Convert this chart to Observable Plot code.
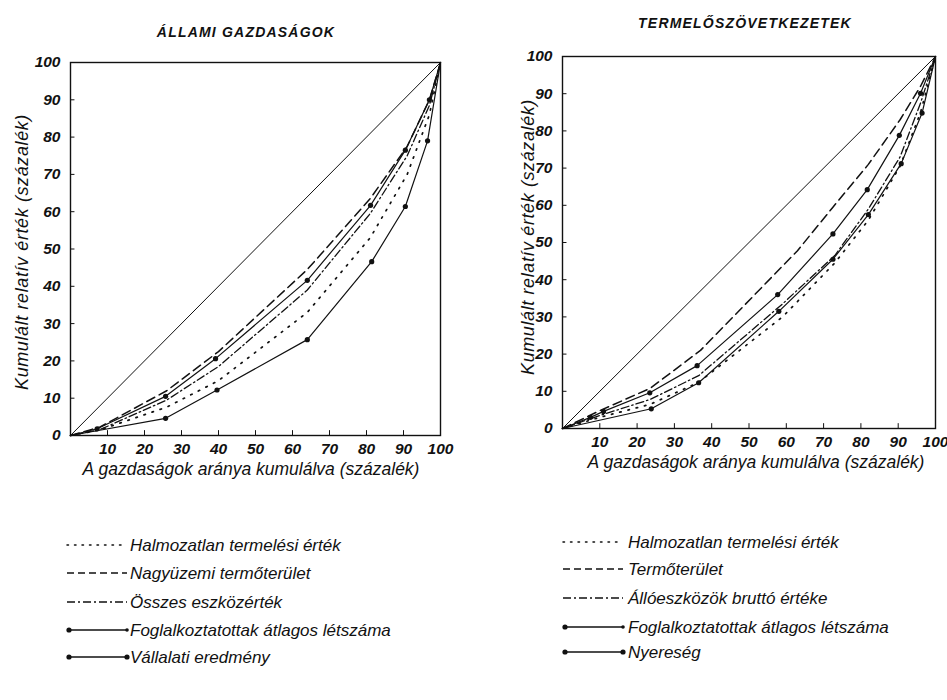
<!DOCTYPE html>
<html><head><meta charset="utf-8">
<script src="https://cdn.jsdelivr.net/npm/d3@7"></script>
<script src="https://cdn.jsdelivr.net/npm/@observablehq/plot@0.6"></script>
<style>
body{margin:0;background:#fff;}
#root{position:relative;width:947px;height:700px;overflow:hidden;font-family:"Liberation Sans",Arial,sans-serif;color:#111;}
.abs{position:absolute;white-space:nowrap;}
.title{font-weight:bold;font-style:italic;font-size:14px;letter-spacing:1.2px;transform:translate(-50%,-50%);}
.xlab{font-style:italic;font-size:17.5px;transform:translate(-50%,-50%);}
.ylab{font-style:italic;font-size:18px;letter-spacing:0.6px;transform:translate(-50%,-50%) rotate(-90deg);}
svg{overflow:visible;}
</style></head><body><div id="root"></div>
<script>
// ---- texts ----
const titleAG = "ÁLLAMI GAZDASÁGOK";
const titleTSZ = "TERMELŐSZÖVETKEZETEK";
const yLabel = "Kumulált relatív érték (százalék)";
const xLabel = "A gazdaságok aránya kumulálva (százalék)";
const xTicks = [10, 20, 30, 40, 50, 60, 70, 80, 90, 100];
const yTicks = [0, 10, 20, 30, 40, 50, 60, 70, 80, 90, 100];
const diagX = [0, 100];
const diagY = [0, 100];

// ---- Állami gazdaságok ----
const namesAG = ["Halmozatlan termelési érték", "Nagyüzemi termőterület", "Összes eszközérték", "Foglalkoztatottak átlagos létszáma", "Vállalati eredmény"];
const agHalmX = [0, 8, 26, 40, 64, 81, 91, 97, 100];
const agHalmY = [0, 1.5, 7.6, 14.7, 33, 53, 70, 86, 100];
const agTermX = [0, 8, 26, 40, 64, 81, 91, 97, 100];
const agTermY = [0, 2.3, 12, 22.5, 44.5, 63.5, 77.5, 90, 100];
const agEszkX = [0, 8, 26, 40, 64, 81, 91, 97, 100];
const agEszkY = [0, 1.6, 9.5, 18.5, 39, 59.5, 75, 88.5, 100];
const agFoglX = [0, 7.2, 25.7, 39.2, 64, 81.1, 90.5, 97, 100];
const agFoglY = [0, 1.8, 10.5, 20.6, 41.6, 61.7, 76.5, 90, 100];
const agEredX = [0, 25.7, 39.6, 64, 81.4, 90.5, 96.5, 100];
const agEredY = [0, 4.6, 12.2, 25.7, 46.6, 61.4, 79, 100];

// ---- Termelőszövetkezetek ----
const namesTSZ = ["Halmozatlan termelési érték", "Termőterület", "Állóeszközök bruttó értéke", "Foglalkoztatottak átlagos létszáma", "Nyereség"];
const tszHalmX = [0, 10, 23.5, 36.5, 59, 73, 82, 90.5, 96, 100];
const tszHalmY = [0, 3, 6.5, 12.4, 30, 44.5, 56, 70.5, 85, 100];
const tszTermX = [0, 10, 23.5, 37, 63, 72.5, 82, 90.5, 96, 100];
const tszTermY = [0, 4.8, 10.8, 21, 47.8, 59.5, 71, 83, 92, 100];
const tszAlloX = [0, 10, 23.5, 36.5, 59, 73, 82, 90.5, 96, 100];
const tszAlloY = [0, 3.5, 7.8, 14.2, 33.5, 46.5, 59, 73, 87.5, 100];
const tszFoglX = [0, 7.5, 11, 23.4, 36.1, 57.7, 72.5, 81.7, 90.3, 96, 100];
const tszFoglY = [0, 3, 4.6, 9.6, 16.9, 36, 52.3, 64.2, 78.8, 90.1, 100];
const tszNyerX = [0, 23.8, 36.5, 58, 72.5, 82, 90.8, 96.4, 100];
const tszNyerY = [0, 5.3, 12.3, 31.5, 45.5, 57.5, 71.2, 84.8, 100];

const INK = "#111";
const styles = {
  dotted: {strokeDasharray: "1.5,7", strokeWidth: 1.7, strokeLinecap: "round"},
  dashed: {strokeDasharray: "9,5", strokeWidth: 1.5},
  dashdot: {strokeDasharray: "8,3,1.5,3", strokeWidth: 1.3},
  solid: {strokeWidth: 1.2}
};

function seriesMarks(xs, ys, st, dots) {
  const idx = xs.map((_, i) => i);
  const m = [Plot.line(idx, {x: i => xs[i], y: i => ys[i], stroke: INK, ...styles[st]})];
  if (dots) {
    const di = idx.filter(i => xs[i] > 0 && xs[i] < 100);
    m.push(Plot.dot(di, {x: i => xs[i], y: i => ys[i], r: 2.6, fill: INK}));
  }
  return m;
}

function panel(list, o) {
  const marks = [
    Plot.frame({stroke: INK, strokeWidth: 1.4}),
    Plot.line(diagX.map((_, i) => i), {x: i => diagX[i], y: i => diagY[i], stroke: INK, strokeWidth: 1}),
    Plot.ruleX(xTicks, {y1: 0, y2: 1.3, stroke: INK}),
    Plot.ruleY(yTicks, {x1: 0, x2: 1.2, stroke: INK}),
    Plot.axisX(xTicks, {tickSize: 0, tickPadding: 7, label: null}),
    Plot.axisY(yTicks, {tickSize: 0, tickPadding: 10, label: null}),
  ];
  for (const s of list) marks.push(...seriesMarks(s[0], s[1], s[2], s[3]));
  return Plot.plot({
    width: o.width, height: o.height,
    marginLeft: o.ml, marginRight: o.mr, marginTop: o.mt, marginBottom: o.mb,
    x: {domain: [0, 100]}, y: {domain: [0, 100]},
    style: {fontFamily: "'Liberation Sans', Arial, sans-serif", fontStyle: "italic", fontWeight: "bold", fontSize: "15.5px", color: INK, background: "transparent"},
    marks
  });
}

const root = document.getElementById("root");
function place(el, left, top) { el.style.position = "absolute"; el.style.left = left + "px"; el.style.top = top + "px"; root.appendChild(el); }
function text(cls, str, x, y) { const d = document.createElement("div"); d.className = "abs " + cls; d.textContent = str; d.style.left = x + "px"; d.style.top = y + "px"; root.appendChild(d); }

const p1 = panel([
  [agHalmX, agHalmY, "dotted", false],
  [agTermX, agTermY, "dashed", false],
  [agEszkX, agEszkY, "dashdot", false],
  [agFoglX, agFoglY, "solid", true],
  [agEredX, agEredY, "solid", true]
], {width: 470, height: 480, ml: 70, mr: 30, mt: 62, mb: 45});
place(p1, 0, 0);

const p2 = panel([
  [tszHalmX, tszHalmY, "dotted", false],
  [tszTermX, tszTermY, "dashed", false],
  [tszAlloX, tszAlloY, "dashdot", false],
  [tszFoglX, tszFoglY, "solid", true],
  [tszNyerX, tszNyerY, "solid", true]
], {width: 467, height: 480, ml: 82, mr: 12, mt: 56, mb: 52});
place(p2, 480, 0);

text("title", titleAG, 246, 32);
text("title", titleTSZ, 745, 23);
text("ylab", yLabel, 22, 252);
text("ylab", yLabel, 528, 237);
text("xlab", xLabel, 251, 469);
text("xlab", xLabel, 756, 462);

// ---- legends ----
const legStyles = ["dotted", "dashed", "dashdot", "foglal", "both"];
const legDash = {dotted: "1.5,6", dashed: "7,4", dashdot: "8,3,2,3"};
function legend(names, x0, x1, tx, rows) {
  const svg = d3.create("svg").attr("width", 947).attr("height", 700)
    .style("position", "absolute").style("left", 0).style("top", 0);
  names.forEach((n, i) => {
    const y = rows[i], st = legStyles[i];
    const line = svg.append("line").attr("x1", x0).attr("x2", x1).attr("y1", y).attr("y2", y)
      .attr("stroke", INK).attr("stroke-width", 1.3);
    if (legDash[st]) line.attr("stroke-dasharray", legDash[st]);
    if (st === "dotted") line.attr("stroke-linecap", "round").attr("stroke-width", 1.5);
    if (st === "foglal" || st === "both") {
      svg.append("circle").attr("cx", x0 + 2).attr("cy", y).attr("r", 2.6).attr("fill", INK);
      svg.append("circle").attr("cx", x1).attr("cy", y).attr("r", st === "both" ? 2.6 : 1.8).attr("fill", INK);
    }
    svg.append("text").attr("x", tx).attr("y", y).attr("dy", "0.35em")
      .attr("font-family", "'Liberation Sans', Arial, sans-serif").attr("font-style", "italic")
      .attr("font-size", 17).attr("fill", INK).text(n);
  });
  root.appendChild(svg.node());
}
legend(namesAG, 67, 127, 130, [545, 573, 602, 630, 657]);
legend(namesTSZ, 563, 623, 628, [542, 569, 598, 627, 652]);
</script></body></html>
